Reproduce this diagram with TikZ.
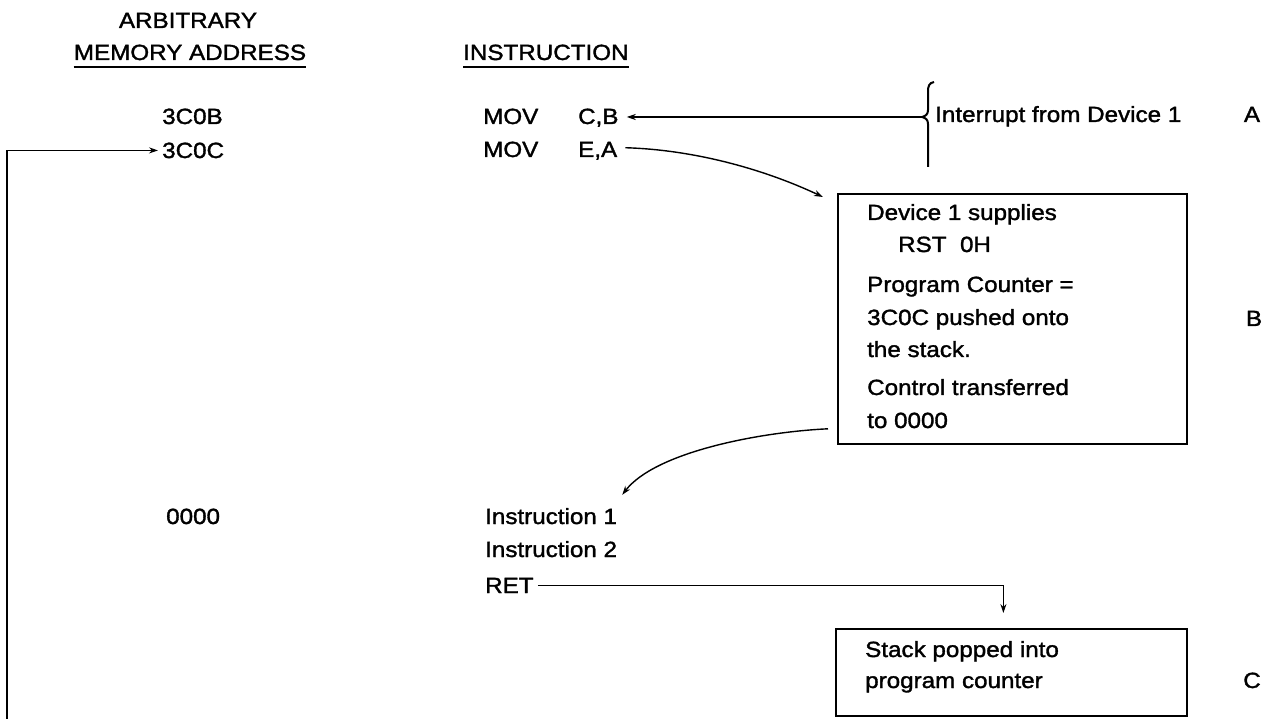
\documentclass[tikz,border=0pt]{standalone}
\usepackage{fontspec}
\setmainfont{Liberation Sans}[FakeStretch=1.1,FakeBold=1.5]
\usetikzlibrary{arrows.meta}
\begin{document}
\begin{tikzpicture}[x=1pt,y=-1pt,
  txt/.style={inner sep=0pt,anchor=base west,font=\fontsize{22}{26}\selectfont},
  ctxt/.style={inner sep=0pt,anchor=base,font=\fontsize{22}{26}\selectfont},
  conn/.style={line width=1.4pt},
  arr/.style={conn,-{Stealth[length=9pt,width=6pt]}},
  box/.style={draw,line width=1.8pt,inner sep=0pt,anchor=north west},
  uline/.style={line width=1.6pt}]
\useasboundingbox (0,0) rectangle (1267,719);

% headings
\node[ctxt] (arb) at (188,28) {ARBITRARY};
\node[ctxt] (mem) at (190,60) {MEMORY ADDRESS};
\node[txt] (ins) at (463,60) {INSTRUCTION};
\draw[uline] ([yshift=-7pt]mem.base west) -- ([yshift=-7pt]mem.base east);
\draw[uline] ([yshift=-7pt]ins.base west) -- ([yshift=-7pt]ins.base east);

% addresses
\node[txt] (a1) at (162,124) {3C0B};
\node[txt] (a2) at (162,158) {3C0C};
\node[txt] (a3) at (166,524) {0000};

% instructions
\node[txt] (i1) at (483,124) {\makebox[95pt][l]{MOV}C,B};
\node[txt] (i2) at (483,157) {\makebox[95pt][l]{MOV}E,A};
\node[txt] (ins1) at (485,524) {Instruction 1};
\node[txt] (ins2) at (485,557) {Instruction 2};
\node[txt] (ret) at (485,593) {RET};

% interrupt brace
\coordinate (bt) at (922,117);
\draw[line width=2pt] (934,82) .. controls (929,83) and (928,86) .. (928,92) -- (928,110)
  .. controls (928,114) and (926,116) .. (bt) .. controls (926,118) and (928,120) .. (928,124) -- (928,167);
\node[txt] (intr) at (935,122) {Interrupt from Device 1};
\draw[arr] (bt) -- ([xshift=8pt]i1.east |- bt);

% side labels
\node[ctxt] (lA) at (1252,122) {A};
\node[ctxt] (lB) at (1254,326) {B};
\node[ctxt] (lC) at (1252,688) {C};

% box B
\node[box,minimum width=349pt,minimum height=250pt] (boxB) at (837,193) {};
\node[txt] (b1) at (867,220) {Device 1 supplies};
\node[txt] (b2) at (898,252) {RST\ \ 0H};
\node[txt] (b3) at (867,292) {Program Counter =};
\node[txt] (b4) at (867,325) {3C0C pushed onto};
\node[txt] (b5) at (867,357) {the stack.};
\node[txt] (b6) at (867,395) {Control transferred};
\node[txt] (b7) at (867,428) {to 0000};

% box C
\node[box,minimum width=351pt,minimum height=87pt] (boxC) at (835,628) {};
\node[txt] (c1) at (865,657) {Stack popped into};
\node[txt] (c2) at (865,688) {program counter};

% connectors
\draw[arr] ([xshift=8pt,yshift=3pt]i2.east) .. controls (700,150) and (770,172) .. ([xshift=-14pt,yshift=-4pt]boxB.north west);
\draw[arr] ([xshift=-9pt,yshift=16pt]boxB.south west) .. controls (760,432) and (655,452) .. ([xshift=5pt,yshift=13pt]ins1.north east);
\coordinate (retend) at ([xshift=-8pt,yshift=15pt]boxC.north);
\draw[arr] ([xshift=4pt]ret.east) -| (retend);
\coordinate (loopstart) at (7,719);
\draw[arr] (loopstart) |- ([xshift=-4pt]a2.west);
\end{tikzpicture}
\end{document}
